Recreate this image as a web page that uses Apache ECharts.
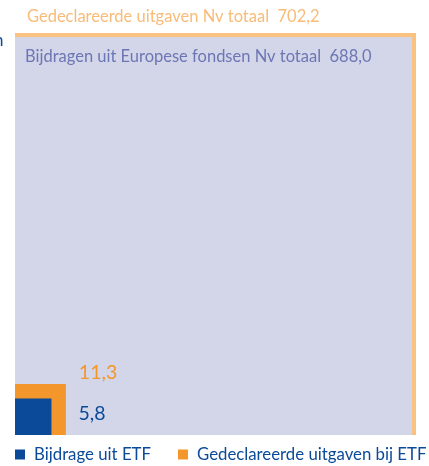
<!DOCTYPE html>
<html>
<head>
<meta charset="utf-8">
<script src="https://cdn.jsdelivr.net/npm/echarts@6/dist/echarts.min.js"></script>
<style>
  html, body { margin: 0; padding: 0; background: #fff; }
  #chart { width: 429px; height: 466px; }
</style>
</head>
<body>
<div id="chart"></div>
<script>
// area of each square is proportional to the amount (x € miljoen)
const seriesNames = [
  'Gedeclareerde uitgaven Nv totaal',
  'Bijdragen uit Europese fondsen Nv totaal',
  'Gedeclareerde uitgaven bij ETF',
  'Bijdrage uit ETF'
];
const seriesValues = [702.2, 688.0, 11.3, 5.8];
const valueLabels = ['702,2', '688,0', '11,3', '5,8'];
const legendItems = ['Bijdrage uit ETF', 'Gedeclareerde uitgaven bij ETF'];

const colors = ['#f9c281', '#d3d6e9', '#f3962b', '#0b4a98'];
const labelColors = ['#f9bb78', '#6d76b4', '#f3962b', '#0b4a98'];
// label placement relative to the square
const labelPlace = [
  { withName: true, dx: 12, dy: -16, from: 'topLeft' },
  { withName: true, dx: 10, dy: 20, from: 'topLeft' },
  { withName: false, dx: 13, dy: -11, from: 'topRight' },
  { withName: false, dx: 27, dy: 15, from: 'topRight' }
];

const side = Math.sqrt(seriesValues[0]);
const FONT = 'Lato';

function makeSeries(i) {
  return {
    type: 'custom',
    name: seriesNames[i],
    itemStyle: { color: colors[i] },
    data: [[seriesValues[i]]],
    renderItem: function (params, api) {
      const s = Math.sqrt(api.value(0));
      const p0 = api.coord([0, 0]);
      const p1 = api.coord([s, s]);
      const lp = labelPlace[i];
      const tx = (lp.from === 'topLeft' ? p0[0] : p1[0]) + lp.dx;
      const ty = p1[1] + lp.dy;
      const txt = lp.withName ? seriesNames[i] + '  ' + valueLabels[i] : valueLabels[i];
      return {
        type: 'group',
        children: [
          {
            type: 'rect',
            shape: { x: p0[0], y: p1[1], width: p1[0] - p0[0], height: p0[1] - p1[1] },
            style: { fill: colors[i] }
          },
          {
            type: 'text',
            x: tx,
            y: ty,
            style: {
              text: txt,
              fill: labelColors[i],
              font: (lp.withName ? '16.5px ' : '19.5px ') + FONT,
              textAlign: 'left',
              textVerticalAlign: 'middle'
            }
          }
        ]
      };
    }
  };
}

const chart = echarts.init(document.getElementById('chart'));
chart.setOption({
  animation: false,
  grid: { left: 15, top: 33, width: 401, height: 402 },
  xAxis: { type: 'value', min: 0, max: side, show: false },
  yAxis: { type: 'value', min: 0, max: side, show: false },
  legend: {
    data: legendItems,
    left: 15,
    bottom: 3,
    padding: 0,
    icon: 'rect',
    itemWidth: 10,
    itemHeight: 10,
    itemGap: 27,
    textStyle: { fontFamily: FONT, fontSize: 16.8, color: '#0b4a98', padding: [0, 0, 0, 4] }
  },
  graphic: [{
    type: 'text',
    left: -65,
    top: 32,
    style: { text: '€ miljoen', fill: '#0b4a98', font: '17px ' + FONT }
  }],
  series: seriesValues.map((v, i) => makeSeries(i))
});
</script>
</body>
</html>
